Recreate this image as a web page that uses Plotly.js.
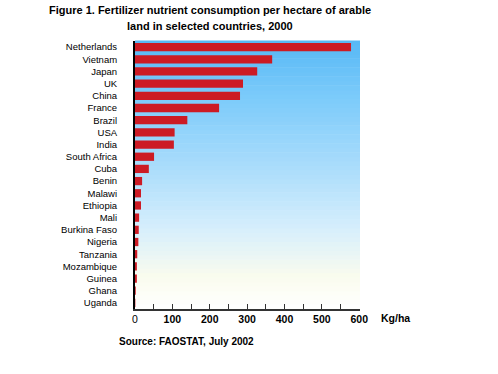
<!DOCTYPE html>
<html>
<head>
<meta charset="utf-8">
<script src="https://cdn.plot.ly/plotly-3.0.1.min.js"></script>
<style>html,body{margin:0;padding:0;background:#fff;}#chart{width:498px;height:374px;}</style>
</head>
<body>
<div id="chart"></div>
<script>
var countries = ["Netherlands","Vietnam","Japan","UK","China","France","Brazil","USA","India","South Africa","Cuba","Benin","Malawi","Ethiopia","Mali","Burkina Faso","Nigeria","Tanzania","Mozambique","Guinea","Ghana","Uganda"];
var kgPerHa = [578, 367, 327, 289, 281, 225, 140, 106, 104, 51, 37, 19, 16, 16, 11, 10, 9, 6, 5, 5, 2, 1];
var tickValues = [0,50,100,150,200,250,300,350,400,450,500,550,600];
var tickLabels = ["0","","<b>100</b>","","<b>200</b>","","<b>300</b>","","<b>400</b>","","<b>500</b>","","<b>600</b>"];
var titleLines = ["Figure 1. Fertilizer nutrient consumption per hectare of arable", "land in selected countries, 2000"];

// background gradient (style only)
var gradStops = [[0,[255,255,255]],[0.12,[250,252,238]],[0.3,[214,238,252]],[0.55,[166,219,251]],[0.8,[122,202,250]],[1,[86,184,245]]];
function colAt(t){
  for (var i=1;i<gradStops.length;i++){
    if (t<=gradStops[i][0]){
      var a=gradStops[i-1], b=gradStops[i], f=(t-a[0])/(b[0]-a[0]);
      var c=a[1].map(function(v,k){return Math.round(v+(b[1][k]-v)*f);});
      return 'rgb('+c.join(',')+')';
    }
  }
  return 'rgb(86,184,245)';
}
var shapes=[]; var N=60;
for (var i=0;i<N;i++){
  shapes.push({type:'rect',xref:'x domain',yref:'y domain',x0:0,x1:1,y0:i/N,y1:(i+1)/N+0.002,
    fillcolor:colAt((i+0.5)/N),line:{width:0},layer:'below'});
}

var trace = {
  type:'bar', orientation:'h', x:kgPerHa, y:countries,
  marker:{color:'#cc1b24', line:{width:0}},
  hoverinfo:'x+y'
};
var fam = '"Liberation Sans", Arial, sans-serif';
var layout = {
  width:498, height:374,
  margin:{l:135, r:138, t:41, b:65},
  paper_bgcolor:'#ffffff', plot_bgcolor:'rgba(0,0,0,0)',
  bargap:0.32,
  showlegend:false,
  font:{family:fam, color:'#000'},
  xaxis:{range:[0,602], tickmode:'array', tickvals:tickValues, ticktext:tickLabels,
    ticks:'inside', ticklen:5, tickcolor:'#333', tickwidth:1,
    showline:true, linecolor:'#333', linewidth:1.5, showgrid:false, zeroline:false,
    tickfont:{size:10.5, color:'#000'}, fixedrange:true},
  yaxis:{autorange:'reversed', tickmode:'array', tickvals:countries, ticktext:countries,
    ticks:'', showline:true, linecolor:'#000', linewidth:2,
    showgrid:false, zeroline:false, tickfont:{size:9.5, color:'#000'}, ticklabelstandoff:14, fixedrange:true},
  shapes:shapes,
  annotations:[
    {text:'<b>'+titleLines[0]+'</b>', xref:'paper', yref:'paper', x:(210-135)/225, y:1+(41-10)/268, xanchor:'center', yanchor:'middle', showarrow:false, font:{size:11}},
    {text:'<b>'+titleLines[1]+'</b>', xref:'paper', yref:'paper', x:(210-135)/225, y:1+(41-26)/268, xanchor:'center', yanchor:'middle', showarrow:false, font:{size:11}},
    {text:'<b>Kg/ha</b>', xref:'paper', yref:'paper', x:(395-135)/225, y:-(318-309)/268, xanchor:'center', yanchor:'middle', showarrow:false, font:{size:10.5}},
    {text:'<b>Source: FAOSTAT, July 2002</b>', xref:'paper', yref:'paper', x:(117-135)/225, y:-(341-309)/268, xanchor:'left', yanchor:'middle', showarrow:false, font:{size:10}}
  ]
};
Plotly.newPlot('chart',[trace],layout,{displayModeBar:false, staticPlot:true});
</script>
</body>
</html>
